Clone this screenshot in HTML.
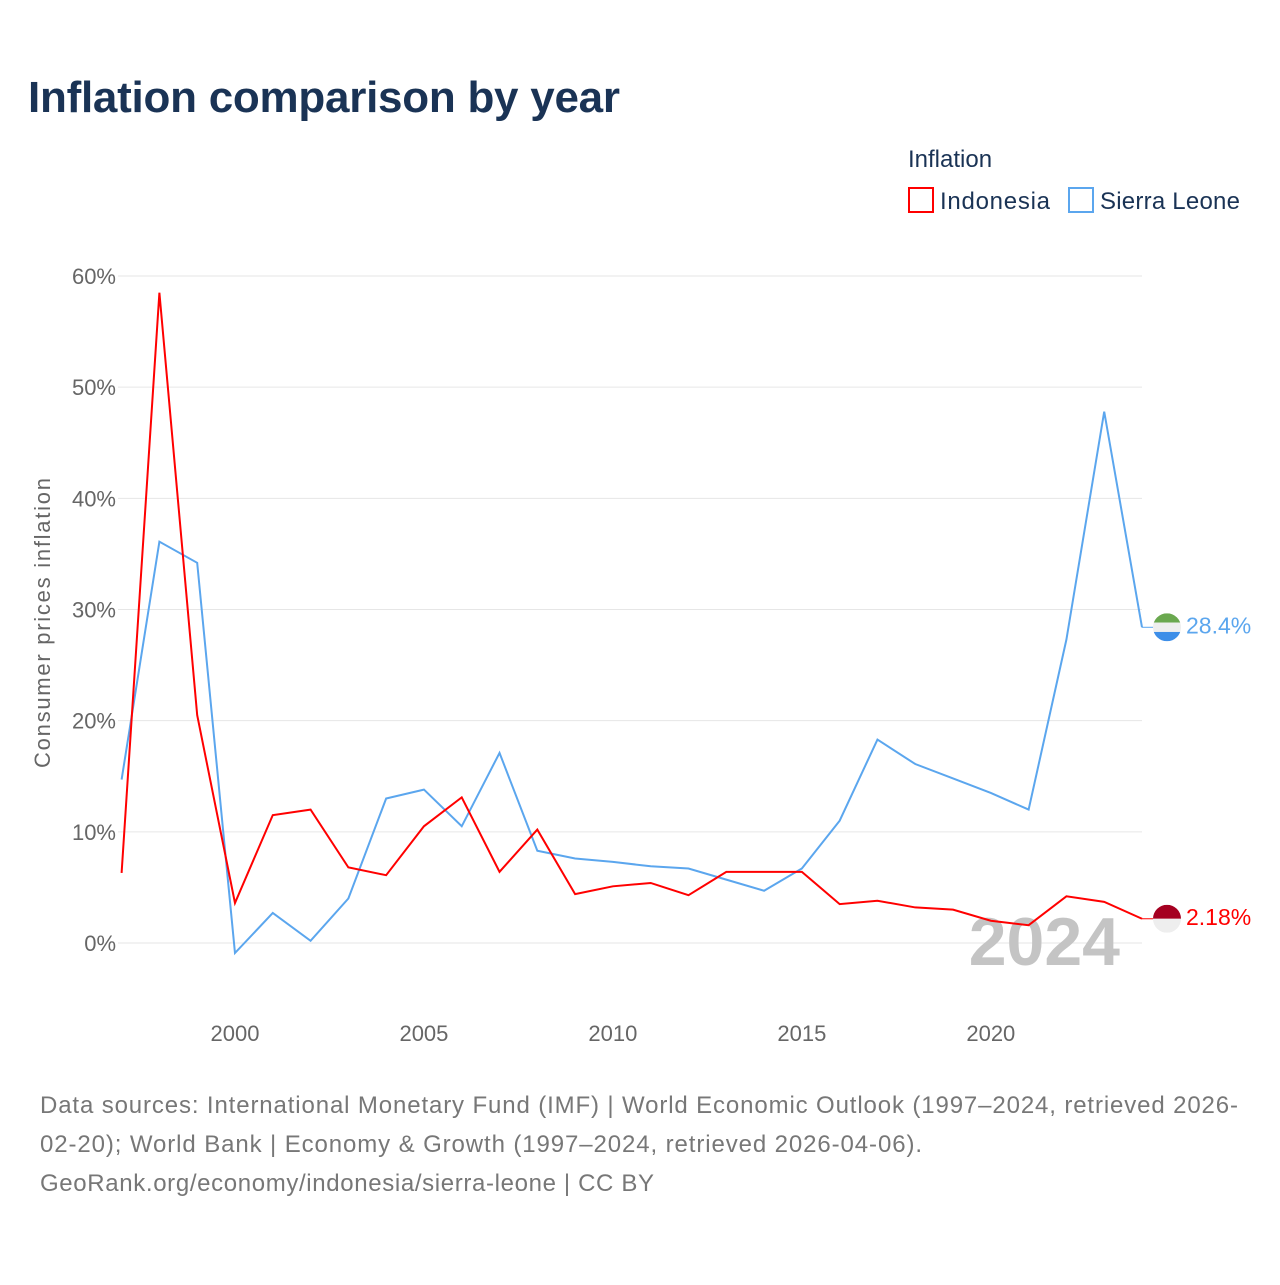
<!DOCTYPE html>
<html><head><meta charset="utf-8"><style>
body{margin:0;background:#fff;width:1280px;height:1280px;overflow:hidden;font-family:"Liberation Sans",sans-serif}
</style></head><body>
<svg id="chart" width="1280" height="1280" xmlns="http://www.w3.org/2000/svg">
<text x="28" y="112" font-size="44" font-weight="bold" fill="#1a3355" textLength="592">Inflation comparison by year</text>
<text x="908" y="167" font-size="24" fill="#1a3355">Inflation</text>
<g><rect x="909" y="188" width="24" height="24" fill="none" stroke="#f00" stroke-width="2"/><text x="940" y="209" font-size="24" fill="#1a3355" textLength="110">Indonesia</text></g>
<g><rect x="1069" y="188" width="24" height="24" fill="none" stroke="#5ba6ee" stroke-width="2"/><text x="1100" y="209" font-size="24" fill="#1a3355" textLength="140">Sierra Leone</text></g>
<text transform="translate(50,623) rotate(-90)" text-anchor="middle" font-size="22" fill="#666" textLength="290">Consumer prices inflation</text>
<g id="grid"></g><g id="xt"></g>
<text x="1120" y="965" text-anchor="end" font-size="68" font-weight="bold" fill="#c4c4c4">2024</text>
<g id="series"></g>
<text x="40" y="1113" font-size="24" fill="#777" textLength="1198">Data sources: International Monetary Fund (IMF) | World Economic Outlook (1997–2024, retrieved 2026-</text>
<text x="40" y="1152" font-size="24" fill="#777" textLength="882">02-20); World Bank | Economy &amp; Growth (1997–2024, retrieved 2026-04-06).</text>
<text x="40" y="1191" font-size="24" fill="#777" textLength="614">GeoRank.org/economy/indonesia/sierra-leone | CC BY</text>
</svg>
<script>
const years=[1997,1998,1999,2000,2001,2002,2003,2004,2005,2006,2007,2008,2009,2010,2011,2012,2013,2014,2015,2016,2017,2018,2019,2020,2021,2022,2023,2024];
const indonesia=[6.3,58.5,20.5,3.6,11.5,12.0,6.8,6.1,10.5,13.1,6.4,10.2,4.4,5.1,5.4,4.3,6.4,6.4,6.4,3.5,3.8,3.2,3.0,2.0,1.6,4.2,3.7,2.18];
const sierraLeone=[14.7,36.1,34.2,-0.9,2.7,0.2,4.0,13.0,13.8,10.5,17.1,8.3,7.6,7.3,6.9,6.7,5.7,4.7,6.7,11.0,18.3,16.1,14.8,13.5,12.0,27.3,47.8,28.4];
const yTicks=[0,10,20,30,40,50,60];
const xTicks=[2000,2005,2010,2015,2020];
const NS="http://www.w3.org/2000/svg";
const X=y=>121.6+(y-1997)*(1142-121.6)/27;
const Y=v=>943-v*(943-276)/60;
function mk(t,a,p){const e=document.createElementNS(NS,t);for(const k in a)e.setAttribute(k,a[k]);p.appendChild(e);return e;}
const grid=document.getElementById('grid');
yTicks.forEach(v=>{
 const l=mk('line',{x1:118,x2:1142,y1:Y(v),y2:Y(v),stroke:'#e6e6e6','stroke-width':1},grid);
 
 
 const t=mk('text',{x:116,y:Y(v)+8,'text-anchor':'end','font-size':22,fill:'#666'},grid);
 t.textContent=v+'%';
 
 
});
const xt=document.getElementById('xt');
xTicks.forEach(y=>{
 const t=mk('text',{x:X(y),y:1041,'text-anchor':'middle','font-size':22,fill:'#666'},xt);
 t.textContent=y;
 
 
});
const sg=document.getElementById('series');
function line(vals,col,name){
 const p=mk('polyline',{points:vals.map((v,i)=>X(years[i])+','+Y(v)).join(' '),fill:'none',stroke:col,'stroke-width':2},sg);
 
 
}
line(sierraLeone,'#5ba6ee','sierra-leone');
line(indonesia,'#f00','indonesia');
function endLabel(v,col,name,bands){
 const y=Y(v);
 mk('line',{x1:1142,x2:1153,y1:y,y2:y,stroke:col,'stroke-width':1},sg);
 const g=mk('g',{},sg);
 
 
 const cp=mk('clipPath',{id:'c'+name},g);mk('circle',{cx:1167,cy:y,r:14},cp);
 const h=28/bands.length;
 bands.forEach((c,i)=>mk('rect',{x:1153,y:y-14+i*h,width:28,height:h,fill:c,'clip-path':'url(#c'+name+')'},g));
 const t=mk('text',{x:1186,y:y+6,'font-size':23,fill:col},sg);
 t.textContent=v+'%';
 
 
}
endLabel(sierraLeone[sierraLeone.length-1],'#5ba6ee','sierra-leone',['#6aa84f','#eeeeee','#3d8ee8']);
endLabel(indonesia[indonesia.length-1],'#f00','indonesia',['#a50021','#eeeeee']);
</script>
</body></html>
